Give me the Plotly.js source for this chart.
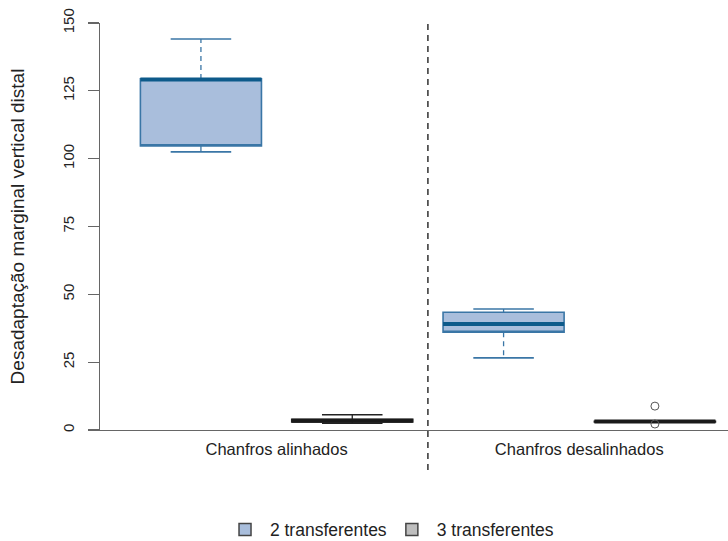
<!DOCTYPE html>
<html>
<head>
<meta charset="utf-8">
<script src="https://cdn.plot.ly/plotly-3.0.1.min.js"></script>
<style>html,body{margin:0;padding:0;background:#fff}#chart{width:728px;height:541px}</style>
</head>
<body>
<div id="chart"></div>
<script>
// Groups (x categories) and series
const groups = ['Chanfros alinhados', 'Chanfros desalinhados'];
const seriesNames = ['2 transferentes', '3 transferentes'];

// 2 transferentes: one value per group
const low2 = [102.5, 26.6];
const q1_2 = [104.7, 36.0];
const med2 = [129.2, 39.1];
const q3_2 = [129.4, 43.4];
const high2 = [144.1, 44.6];
const out2 = [[], []];

// 3 transferentes
const low3 = [2.5, 3.0];
const q1_3 = [3.0, 3.0];
const med3 = [3.4, 3.1];
const q3_3 = [3.9, 3.2];
const high3 = [5.6, 3.2];
const out3 = [[], [8.8, 2.2]];

const yTicks = [0, 25, 50, 75, 100, 125, 150];

const styles = [
  {fill: '#a9bedc', line: '#3a76a6', med: '#0d5a8a'},
  {fill: '#bebebe', line: '#222222', med: '#1a1a1a'}
];
const stats = [
  {low: low2, q1: q1_2, med: med2, q3: q3_2, high: high2, out: out2},
  {low: low3, q1: q1_3, med: med3, q3: q3_3, high: high3, out: out3}
];

const halfW = 0.4, capW = 0.2;
const traces = [];
const overlays = [];
stats.forEach((s, si) => {
  const st = styles[si];
  groups.forEach((g, gi) => {
    const x = gi * 2 + si + 1;
    traces.push({
      type: 'box', x: [x], q1: [s.q1[gi]], median: [s.q1[gi]], q3: [s.q3[gi]],
      lowerfence: [s.q1[gi]], upperfence: [s.q3[gi]],
      width: halfW * 2, fillcolor: st.fill, line: {color: st.line, width: 1.6},
      whiskerwidth: 0, boxpoints: false, showlegend: false, hoverinfo: 'skip'
    });
    overlays.push({
      type: 'scatter', mode: 'lines', showlegend: false, hoverinfo: 'skip',
      x: [x, x, null, x, x], y: [s.q3[gi], s.high[gi], null, s.q1[gi], s.low[gi]],
      line: {color: st.line, width: 1.3, dash: '5px,4px'}
    });
    overlays.push({
      type: 'scatter', mode: 'lines', showlegend: false, hoverinfo: 'skip',
      x: [x - capW, x + capW, null, x - capW, x + capW],
      y: [s.high[gi], s.high[gi], null, s.low[gi], s.low[gi]],
      line: {color: st.line, width: 1.6}
    });
    overlays.push({
      type: 'scatter', mode: 'lines', showlegend: false, hoverinfo: 'skip',
      x: [x - halfW, x + halfW], y: [s.med[gi], s.med[gi]],
      line: {color: st.med, width: 4}
    });
    if (s.out[gi].length) {
      overlays.push({
        type: 'scatter', mode: 'markers', showlegend: false, hoverinfo: 'skip',
        x: s.out[gi].map(() => x), y: s.out[gi],
        marker: {symbol: 'circle-open', size: 8, color: '#555', line: {width: 1}}
      });
    }
  });
});
// legend entries
seriesNames.forEach((n, si) => {
  overlays.push({
    type: 'scatter', mode: 'markers', name: '\u00a0' + n, x: [null], y: [null],
    marker: {symbol: 'square', size: 12, color: styles[si].fill, line: {color: '#444', width: 1.5}}
  });
});

const layout = {
  width: 728, height: 541,
  margin: {l: 100, r: 0, t: 23, b: 111},
  paper_bgcolor: '#fff', plot_bgcolor: '#fff',
  font: {family: '"Liberation Sans", Arial, sans-serif', color: '#222'},
  showlegend: true,
  legend: {orientation: 'h', xref: 'paper', x: 0.465, xanchor: 'center',
           yref: 'container', y: 0.021, yanchor: 'middle',
           font: {size: 17.5, color: '#222'}, itemclick: false},
  xaxis: {
    range: [0.333, 4.483], showgrid: false, zeroline: false, automargin: false,
    showline: true, linecolor: '#666', linewidth: 1.3,
    tickmode: 'array', tickvals: [1.5, 3.5], ticktext: groups,
    ticks: 'outside', ticklen: 4, tickcolor: 'rgba(0,0,0,0)',
    tickfont: {size: 16.5, color: '#222'}
  },
  yaxis: {
    range: [0, 150], showgrid: false, zeroline: false,
    showline: true, linecolor: '#666', linewidth: 1.3,
    tickmode: 'array', tickvals: yTicks, ticktext: yTicks.map(String),
    ticks: 'outside', ticklen: 11, tickcolor: '#666', tickwidth: 1.3,
    tickangle: -90, ticklabelstandoff: 8,
    tickfont: {size: 15, color: '#222'},
    title: {text: 'Desadaptação marginal vertical distal', font: {size: 19, color: '#222'}, standoff: 30},
    automargin: false
  },
  shapes: [{
    type: 'line', xref: 'x', yref: 'paper', x0: 2.5, x1: 2.5, y0: -0.098, y1: 1,
    line: {color: '#111', width: 1.3, dash: '6px,5px'}
  }]
};

Plotly.newPlot('chart', traces.concat(overlays), layout, {displayModeBar: false, staticPlot: true});
</script>
</body>
</html>
